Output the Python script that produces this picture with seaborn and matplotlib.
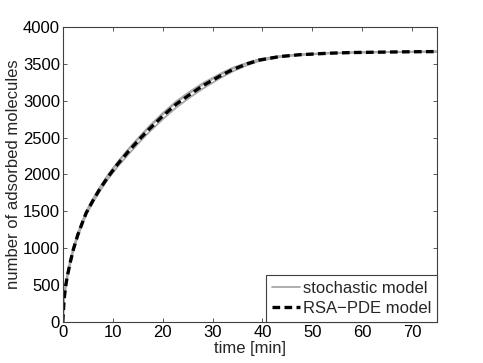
import numpy as np
import pandas as pd
import seaborn as sns
import matplotlib.pyplot as plt

# ---------------- data ----------------
time_min = [0, 0.25, 0.6, 1, 1.5, 2.1, 3, 4, 4.7, 6, 7.4, 9.1, 11, 13, 15.4,
            17.4, 20, 22.7, 25.4, 28, 31.4, 34, 37, 39.4, 43.4, 47.4, 53.4,
            58, 63.4, 69, 75]
rsa_pde = [0, 300, 500, 650, 810, 980, 1180, 1360, 1480, 1640, 1800, 1970,
           2140, 2300, 2480, 2620, 2790, 2950, 3080, 3200, 3330, 3420, 3500,
           3550, 3597, 3622, 3643, 3652, 3657, 3662, 3665]
# a few stochastic realisations (grey band around the PDE curve)
stoch_run1 = [0, 330, 530, 675, 835, 1000, 1200, 1380, 1500, 1665, 1825, 2000,
              2170, 2335, 2515, 2660, 2830, 2990, 3120, 3235, 3360, 3445, 3515,
              3562, 3603, 3626, 3645, 3653, 3658, 3662, 3665]
stoch_run2 = [0, 280, 480, 630, 790, 955, 1155, 1335, 1455, 1615, 1770, 1940,
              2105, 2260, 2440, 2580, 2745, 2905, 3040, 3160, 3300, 3395, 3482,
              3537, 3590, 3618, 3641, 3651, 3656, 3661, 3664]
stoch_run3 = [0, 310, 510, 660, 820, 990, 1190, 1370, 1490, 1650, 1810, 1985,
              2155, 2320, 2500, 2645, 2810, 2975, 3100, 3215, 3345, 3432, 3508,
              3556, 3600, 3624, 3644, 3652, 3657, 3662, 3665]

runs = {'run1': stoch_run1, 'run2': stoch_run2, 'run3': stoch_run3}
stoch = pd.concat([pd.DataFrame({'time': time_min, 'n': v, 'run': k}) for k, v in runs.items()])
pde = pd.DataFrame({'time': time_min, 'n': rsa_pde})

sns.set_style('white')
plt.rcParams['font.family'] = ['Liberation Sans', 'DejaVu Sans']
plt.rcParams['font.size'] = 12

fig = plt.figure(figsize=(4.83, 3.63), dpi=100)
ax = fig.add_axes([0.13, 0.113, 0.775, 0.813])

sns.lineplot(data=stoch, x='time', y='n', units='run', estimator=None,
             color='#a8a8a8', linewidth=1.3, ax=ax, legend=False)
sns.lineplot(data=pde, x='time', y='n', color='black', linewidth=2.4,
             ax=ax, legend=False)
ax.lines[-1].set_dashes([2.3, 1.3])

ax.set_xlim(0, 75)
ax.set_ylim(0, 4000)
ax.set_xticks(range(0, 80, 10))
ax.set_yticks(range(0, 4001, 500))
ax.set_xlabel('time [min]', labelpad=1)
ax.set_ylabel('number of adsorbed molecules', labelpad=1)
ax.tick_params(direction='in', length=3, width=0.6, top=True, right=True,
               bottom=True, left=True, colors='#404040', labelcolor='black', pad=2)
for s in ax.spines.values():
    s.set_color('#404040')
    s.set_linewidth(0.8)

handles = [ax.lines[0], ax.lines[-1]]
leg = ax.legend(handles, ['stochastic model', 'RSA\u2212PDE model'], loc='lower right',
                fancybox=False, framealpha=1, edgecolor='#404040', borderaxespad=0,
                handlelength=1.7, handletextpad=0.15, borderpad=0.35, labelspacing=0.3)
leg.get_frame().set_linewidth(0.8)

fig.savefig('out.png', dpi=100)
